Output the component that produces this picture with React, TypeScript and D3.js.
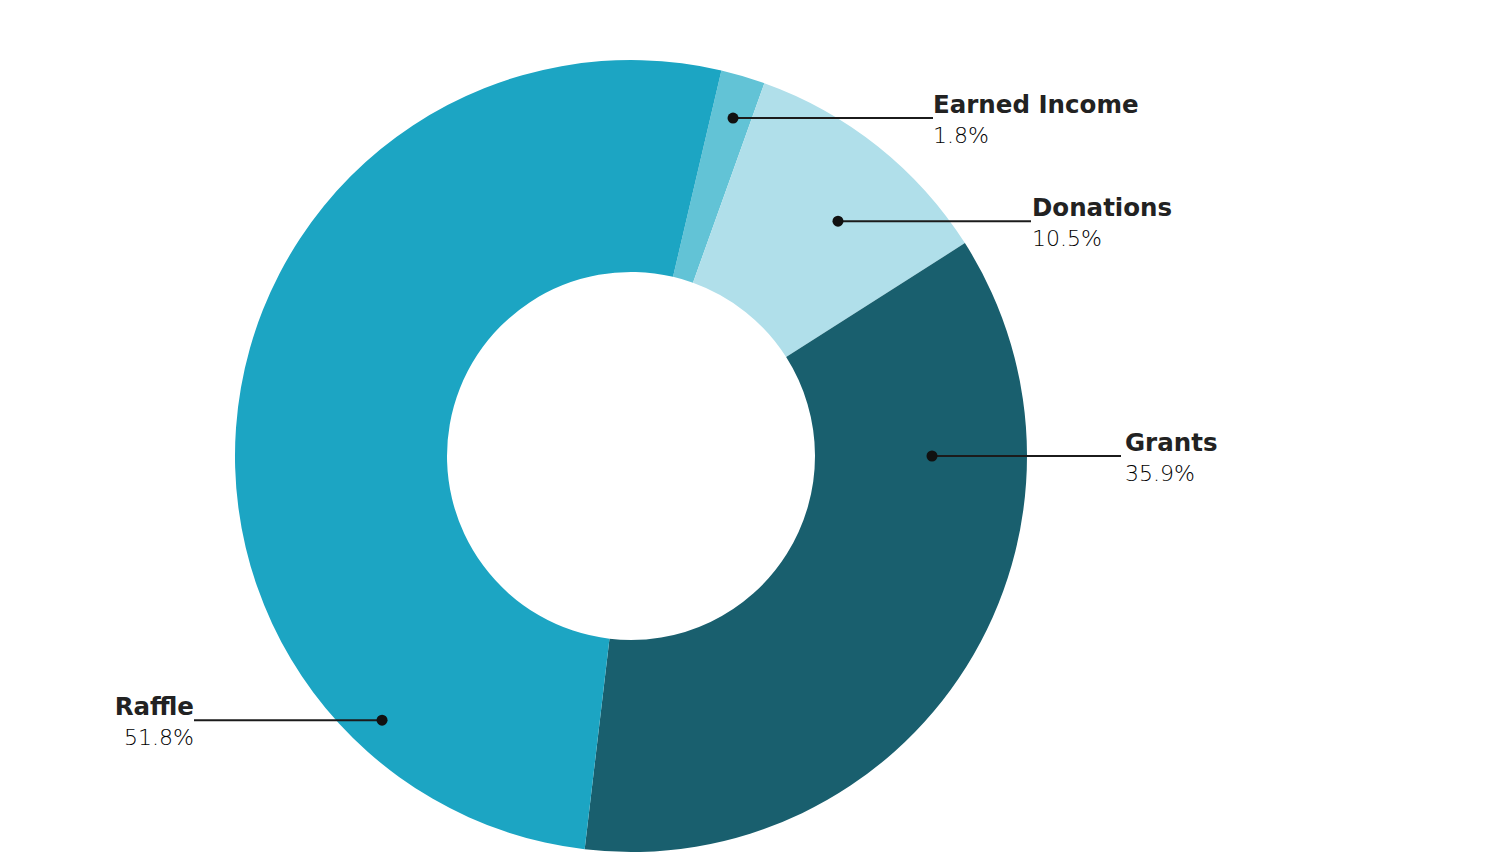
import React from "react";
import * as d3 from "d3";

const categories = ["Earned Income", "Donations", "Grants", "Raffle"];
const values = [1.8, 10.5, 35.9, 51.8];
const colors = ["#62c3d6", "#b0dfea", "#195f6e", "#1ca5c3"];
// label anchor: angle (deg, clockwise from top), radius, label x offset from center
const anchorAngles = [16.8, 41.4, 90, 223.3];
const anchorRadii = [353, 313, 301, 363];
const labelOffsets = [302, 400, 490, -437];
const textGaps = [0, 1, 4, 0];

const W = 1487;
const H = 854;
const cx = 631;
const cy = 456;
const outerR = 396;
const innerR = 184;
const startDeg = 13.2;

export default function App() {
  const pie = d3
    .pie<number>()
    .sort(null)
    .value((d) => d)
    .startAngle((startDeg * Math.PI) / 180)
    .endAngle((startDeg * Math.PI) / 180 + 2 * Math.PI);
  const arcs = pie(values);
  const arc = d3.arc<d3.PieArcDatum<number>>().innerRadius(innerR).outerRadius(outerR);

  return (
    <svg
      width={W}
      height={H}
      style={{ position: "absolute", left: 0, top: 0, display: "block" }}
    >
      <rect width={W} height={H} fill="#ffffff" />
      <g transform={`translate(${cx},${cy})`}>
        {arcs.map((a, i) => (
          <path key={categories[i]} d={arc(a) || ""} fill={colors[i]} />
        ))}
        {categories.map((c, i) => {
          const ang = (anchorAngles[i] * Math.PI) / 180;
          const px = Math.sin(ang) * anchorRadii[i];
          const py = -Math.cos(ang) * anchorRadii[i];
          const lx = labelOffsets[i];
          const right = lx > 0;
          const anchor = right ? "start" : "end";
          const tx = right ? lx + textGaps[i] : lx - textGaps[i];
          return (
            <g key={c}>
              <line x1={px} y1={py} x2={lx} y2={py} stroke="#1b1b1b" strokeWidth={2} />
              <circle cx={px} cy={py} r={5.5} fill="#111" />
              <text
                x={tx}
                y={py - 5}
                textAnchor={anchor}
                fontFamily="'DejaVu Sans', sans-serif"
                fontSize={24.5}
                fontWeight={600}
                fill="#222"
              >
                {c}
              </text>
              <text
                x={tx}
                y={py + 25}
                textAnchor={anchor}
                fontFamily="'DejaVu Sans', sans-serif"
                fontSize={22}
                fontWeight={300}
                fill="#000"
              >
                {values[i].toFixed(1) + "%"}
              </text>
            </g>
          );
        })}
      </g>
    </svg>
  );
}
